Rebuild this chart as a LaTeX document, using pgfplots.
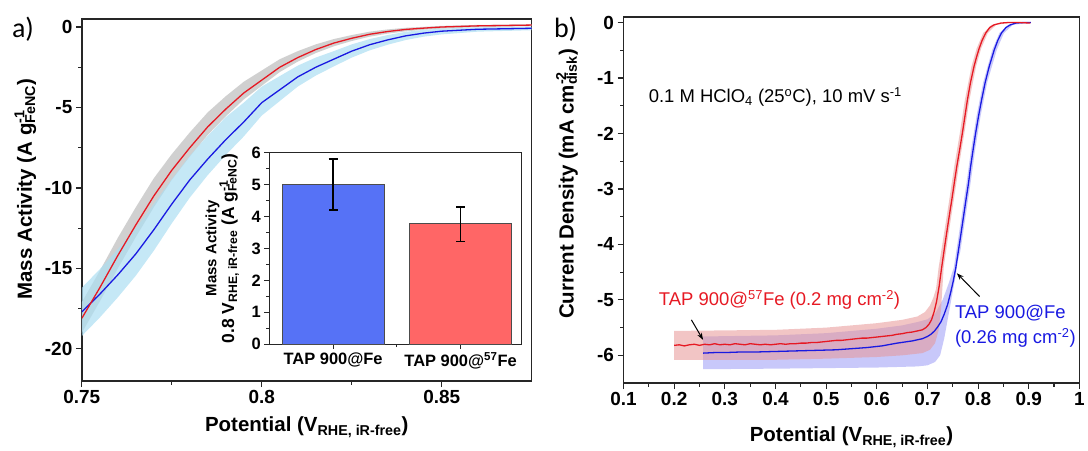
\documentclass[border=0pt]{standalone}
\usepackage{pgfplots}
\pgfplotsset{compat=1.18}
\usepackage{pgfplotstable}
\usepgfplotslibrary{fillbetween}
\usetikzlibrary{arrows.meta}
\usepackage{fontspec}
\setmainfont{Liberation Sans}
\newfontfamily\panelfont{Carlito}

\definecolor{curvered}{RGB}{230,25,35}
\definecolor{curveblue}{RGB}{25,25,225}
\definecolor{bandgrey}{RGB}{200,200,200}
\definecolor{bandcyan}{RGB}{172,222,242}
\definecolor{bandpink}{RGB}{232,150,150}
\definecolor{bandlav}{RGB}{200,200,250}
\definecolor{barblue}{RGB}{86,114,246}
\definecolor{barred}{RGB}{255,102,102}

% stacked superscript / subscript in text
\newcommand\supsub[2]{\rlap{\textsuperscript{#1}}\textsubscript{#2}}

% mass activity vs potential: mean curves with their spread
\pgfplotstableread{
x      red    rlo     rhi     blue    blo     bhi
0.750 -18.1  -19.0   -17.1   -17.7   -19.2   -16.2
0.755 -16.2  -17.05  -15.15  -16.6   -18.05  -15.05
0.760 -14.2  -15.0   -13.1   -15.4   -16.8   -13.8
0.765 -12.3  -13.05  -11.2   -14.1   -15.45  -12.5
0.770 -10.5  -11.2   -9.4    -12.6   -13.9   -11.0
0.775 -8.9   -9.5    -7.9    -11.0   -12.2   -9.45
0.780 -7.5   -8.05   -6.55   -9.5    -10.6   -8.0
0.785 -6.2   -6.7    -5.3    -8.2    -9.2    -6.75
0.790 -5.1   -5.55   -4.3    -7.0    -7.95   -5.6
0.795 -4.1   -4.5    -3.4    -5.9    -6.8    -4.7
0.800 -3.3   -3.65   -2.7    -4.7    -5.5    -3.7
0.805 -2.5   -2.8    -2.0    -3.9    -4.6    -3.05
0.810 -1.9   -2.15   -1.5    -3.1    -3.7    -2.4
0.815 -1.4   -1.62   -1.08   -2.5    -3.02   -1.9
0.820 -1.0   -1.2    -0.75   -2.0    -2.45   -1.5
0.825 -0.7   -0.87   -0.5    -1.5    -1.9    -1.08
0.830 -0.45  -0.6    -0.29   -1.1    -1.45   -0.75
0.835 -0.28  -0.41   -0.15   -0.8    -1.1    -0.5
0.840 -0.15  -0.27   -0.05   -0.55   -0.81   -0.3
0.845 -0.07  -0.17    0.01   -0.38   -0.6    -0.18
0.850  0.0   -0.1     0.07   -0.26   -0.46   -0.1
0.860  0.07  -0.01    0.13   -0.14   -0.29   -0.02
0.875  0.12   0.05    0.17   -0.08   -0.2     0.02
}\massdata

\pgfplotsset{
  panel/.style={
    scale only axis,
    axis line style={line width=1.4pt, black!85},
    tick align=outside, tick pos=left,
    major tick length=6pt, minor tick length=3.5pt,
    tick style={line width=1.2pt, black!85},
    minor tick num=1,
    ticklabel style={font=\fontsize{19}{19}\selectfont\bfseries},
    /pgf/number format/assume math mode=true,
    label style={font=\fontsize{20.5}{22}\selectfont\bfseries},
  },
}

\begin{document}
\begin{tikzpicture}
\path (0,0) rectangle (1088pt,452pt);

% ---------------- panel a ----------------
\begin{axis}[panel,
  at={(82pt,70pt)}, anchor=south west, width=451pt, height=363pt,
  xmin=0.75, xmax=0.875, ymin=-22, ymax=0.5,
  xtick={0.75,0.8,0.85}, ytick={-20,-15,-10,-5,0},
  xlabel={Potential (V\textsubscript{RHE, iR-free})},
  ylabel={Mass Activity (A g\supsub{-1}{FeNC})},
  xlabel style={at={(axis description cs:0.5,0)}, anchor=base, yshift=-51pt},
  ylabel style={at={([xshift=-50pt]axis description cs:0,0.53)}, anchor=base},
]
\addplot[name path=rhi, draw=none] table[x=x, y=rhi]{\massdata};
\addplot[name path=rlo, draw=none] table[x=x, y=rlo]{\massdata};
\addplot[bandgrey, fill opacity=0.85, draw=none] fill between[of=rhi and rlo];
\addplot[name path=bhi, draw=none] table[x=x, y=bhi]{\massdata};
\addplot[name path=blo, draw=none] table[x=x, y=blo]{\massdata};
\addplot[bandcyan, fill opacity=0.7, draw=none] fill between[of=bhi and blo];
\addplot[curveblue, line width=1.3pt] table[x=x, y=blue]{\massdata};
\addplot[curvered, line width=1.3pt] table[x=x, y=red]{\massdata};
\end{axis}

% inset: mass activity at 0.8 V
\begin{axis}[
  at={(270pt,107pt)}, anchor=south west, scale only axis,
  width=253pt, height=192pt,
  xmin=-0.5, xmax=1.48, ymin=0, ymax=6,
  axis background/.style={fill=white},
  axis line style={line width=1.2pt, black!85},
  tick align=outside, tick pos=left,
  major tick length=5pt, minor tick length=3pt,
  tick style={line width=1.1pt, black!85},
  xtick={0,1}, xticklabels={TAP 900@Fe, TAP 900@\textsuperscript{57}Fe},
  minor xtick={0.5},
  ytick={0,1,2,3,4,5,6}, minor ytick={0.5,1.5,2.5,3.5,4.5,5.5},
  ticklabel style={font=\fontsize{16.5}{16.5}\selectfont\bfseries},
  /pgf/number format/assume math mode=true,
  ylabel={\fontsize{15}{17}\selectfont Mass Activity\\[-1pt]
          \fontsize{17.5}{18}\selectfont 0.8 V\textsubscript{RHE, iR-free} (A g\supsub{-1}{FeNC})},
  ylabel style={align=center, font=\bfseries,
    at={([xshift=-27pt]axis description cs:0,0.5)}, anchor=south},
]
\addplot[ybar, bar width=0.8, bar shift=0pt, fill=barblue, draw=black!70, line width=0.8pt,
  error bars/.cd, y dir=both, y explicit,
  error bar style={line width=1.3pt, black},
  error mark options={rotate=90, mark size=4.5pt, line width=1.3pt, black}]
  coordinates {(0,5.0) +- (0,0.8)};
\addplot[ybar, bar width=0.8, bar shift=0pt, fill=barred, draw=black!70, line width=0.8pt,
  error bars/.cd, y dir=both, y explicit,
  error bar style={line width=1.3pt, black},
  error mark options={rotate=90, mark size=4.5pt, line width=1.3pt, black}]
  coordinates {(1,3.78) += (0,0.52) -= (0,0.56)};
\end{axis}

% ---------------- panel b ----------------
\begin{axis}[panel,
  at={(625pt,68pt)}, anchor=south west, width=457pt, height=367pt,
  xmin=0.1, xmax=1.0, ymin=-6.5, ymax=0.1,
  xtick={0.1,0.2,0.3,0.4,0.5,0.6,0.7,0.8,0.9,1},
  ytick={-6,-5,-4,-3,-2,-1,0},
  xlabel={Potential (V\textsubscript{RHE, iR-free})},
  ylabel={Current Density (mA cm\supsub{-2}{disk})},
  xlabel style={at={(axis description cs:0.5,0)}, anchor=base, yshift=-59pt},
  ylabel style={at={([xshift=-50pt]axis description cs:0,0.544)}, anchor=base},
]
% spread of TAP 900@Fe
\addplot[name path=bbu, draw=none] coordinates {
 (0.257,-5.66)(0.4,-5.64)(0.5,-5.60)(0.6,-5.52)(0.65,-5.46)(0.68,-5.40)(0.70,-5.35)
 (0.715,-5.25)(0.73,-5.0)(0.742,-4.7)(0.752,-4.42)(0.757,-4.12)(0.762,-3.82)
 (0.767,-3.51)(0.772,-3.20)(0.777,-2.90)(0.786,-2.30)(0.797,-1.68)(0.810,-1.08)
 (0.828,-0.49)(0.842,-0.19)(0.860,-0.04)(0.9,0.0)};
\addplot[name path=bbl, draw=none] coordinates {
 (0.257,-6.25)(0.4,-6.24)(0.5,-6.23)(0.6,-6.22)(0.68,-6.20)(0.70,-6.18)(0.715,-6.12)
 (0.725,-6.00)(0.733,-5.70)(0.741,-5.30)(0.748,-4.95)(0.755,-4.60)(0.760,-4.30)
 (0.765,-4.12)(0.775,-3.51)(0.785,-2.90)(0.794,-2.30)(0.805,-1.68)(0.818,-1.08)
 (0.837,-0.49)(0.851,-0.19)(0.869,-0.04)(0.9,-0.01)};
\addplot[bandlav, draw=none] fill between[of=bbu and bbl];
% TAP 900@Fe mean
\addplot[curveblue, line width=1.3pt] coordinates {
 (0.257,-5.96)(0.28,-5.95)(0.30,-5.95)(0.33,-5.94)(0.36,-5.94)(0.40,-5.93)(0.44,-5.92)
 (0.48,-5.91)(0.52,-5.90)(0.55,-5.88)(0.58,-5.86)(0.61,-5.83)(0.64,-5.78)(0.67,-5.74)
 (0.69,-5.70)(0.700,-5.66)(0.707,-5.62)(0.714,-5.56)(0.720,-5.49)(0.727,-5.39)
 (0.733,-5.26)(0.740,-5.08)(0.746,-4.86)(0.751,-4.66)(0.756,-4.42)(0.761,-4.12)
 (0.766,-3.82)(0.771,-3.51)(0.776,-3.20)(0.781,-2.90)(0.785,-2.61)(0.790,-2.30)
 (0.795,-2.00)(0.801,-1.68)(0.807,-1.39)(0.814,-1.08)(0.822,-0.79)(0.832,-0.49)
 (0.839,-0.32)(0.846,-0.19)(0.855,-0.09)(0.864,-0.04)(0.875,-0.01)(0.89,0.0)(0.904,0.0)};
% spread of TAP 900@57Fe
\addplot[name path=rbu, draw=none] coordinates {
 (0.2,-5.56)(0.3,-5.55)(0.4,-5.54)(0.5,-5.50)(0.55,-5.46)(0.6,-5.42)(0.65,-5.36)
 (0.68,-5.30)(0.695,-5.22)(0.705,-5.10)(0.712,-4.95)(0.717,-4.80)(0.722,-4.42)
 (0.733,-3.79)(0.743,-3.20)(0.753,-2.59)(0.764,-1.99)(0.774,-1.39)(0.787,-0.79)
 (0.797,-0.47)(0.810,-0.19)(0.827,-0.04)(0.85,0.0)(0.9,0.0)};
\addplot[name path=rbl, draw=none] coordinates {
 (0.2,-6.08)(0.3,-6.08)(0.4,-6.08)(0.5,-6.06)(0.6,-6.03)(0.65,-6.0)(0.69,-5.96)
 (0.705,-5.90)(0.715,-5.78)(0.722,-5.55)(0.727,-5.15)(0.732,-4.42)(0.742,-3.79)
 (0.752,-3.20)(0.762,-2.59)(0.773,-1.99)(0.783,-1.39)(0.796,-0.79)(0.806,-0.47)
 (0.819,-0.19)(0.836,-0.04)(0.86,-0.01)(0.9,-0.01)};
\addplot[bandpink, fill opacity=0.55, draw=none] fill between[of=rbu and rbl];
% TAP 900@57Fe mean
\addplot[curvered, line width=1.3pt] coordinates {
 (0.200,-5.82)(0.210,-5.81)(0.220,-5.83)(0.230,-5.81)(0.240,-5.80)(0.250,-5.82)
 (0.260,-5.80)(0.270,-5.81)(0.280,-5.79)(0.290,-5.81)(0.300,-5.80)(0.310,-5.81)
 (0.320,-5.79)(0.330,-5.80)(0.340,-5.81)(0.350,-5.79)(0.360,-5.80)(0.370,-5.81)
 (0.380,-5.80)(0.390,-5.81)(0.400,-5.80)(0.410,-5.79)(0.420,-5.80)(0.430,-5.79)
 (0.440,-5.79)(0.450,-5.78)(0.460,-5.78)(0.470,-5.77)(0.480,-5.77)(0.490,-5.76)
 (0.500,-5.75)(0.510,-5.74)(0.520,-5.73)(0.530,-5.73)(0.540,-5.72)(0.550,-5.71)
 (0.560,-5.70)(0.570,-5.69)(0.580,-5.69)(0.590,-5.68)(0.600,-5.67)(0.610,-5.66)
 (0.620,-5.65)(0.630,-5.64)(0.640,-5.62)(0.650,-5.61)(0.660,-5.59)(0.670,-5.58)
 (0.680,-5.56)(0.690,-5.54)(0.697,-5.50)(0.703,-5.44)(0.708,-5.36)(0.713,-5.22)
 (0.718,-5.03)(0.723,-4.76)(0.728,-4.42)(0.733,-4.10)(0.738,-3.79)(0.743,-3.49)
 (0.748,-3.20)(0.753,-2.89)(0.758,-2.59)(0.764,-2.27)(0.769,-1.99)(0.774,-1.69)
 (0.779,-1.39)(0.785,-1.08)(0.792,-0.79)(0.797,-0.62)(0.802,-0.47)(0.808,-0.32)
 (0.815,-0.19)(0.823,-0.09)(0.832,-0.04)(0.845,-0.01)(0.86,0.0)(0.88,0.0)(0.903,-0.01)};

% annotations
\node[anchor=west, font=\fontsize{18.5}{20}\selectfont] at (axis cs:0.143,-1.34)
  {0.1 M HClO\textsubscript{4} (25\textsuperscript{o}C), 10 mV s\textsuperscript{-1}};
\node[anchor=west, text=curvered, font=\fontsize{18.5}{20}\selectfont] at (axis cs:0.163,-5.0)
  {TAP 900@\textsuperscript{57}Fe (0.2 mg cm\textsuperscript{-2})};
\node[anchor=north west, text=curveblue, align=left, inner sep=0pt,
  font=\fontsize{18.5}{25}\selectfont] at (axis cs:0.754,-5.1)
  {TAP 900@Fe\\(0.26 mg cm\textsuperscript{-2})};
\draw[-{Stealth[length=7pt,width=5pt]}, line width=1pt, black]
  (axis cs:0.234,-5.36) -- (axis cs:0.257,-5.72);
\draw[-{Stealth[length=7pt,width=5pt]}, line width=1pt, black]
  (axis cs:0.803,-4.94) -- (axis cs:0.758,-4.52);
\end{axis}

% panel letters
\node[font=\panelfont\fontsize{28}{28}\selectfont] at (23pt,423pt) {a)};
\node[font=\panelfont\fontsize{28}{28}\selectfont] at (567pt,423pt) {b)};
\end{tikzpicture}
\end{document}
